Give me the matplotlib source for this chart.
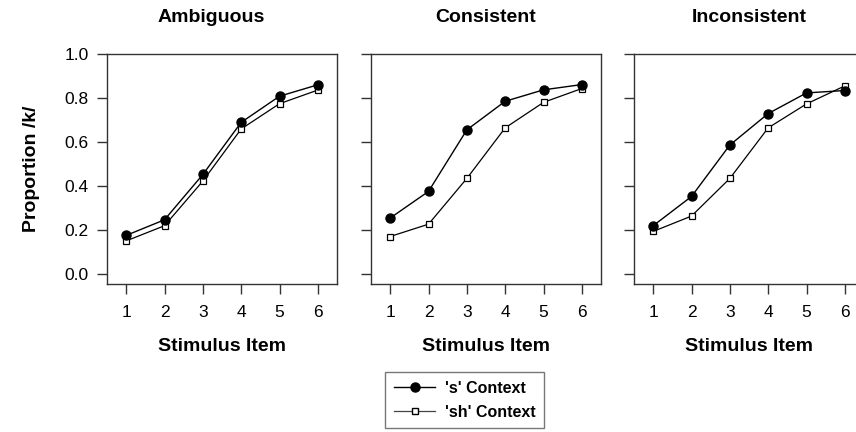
import matplotlib
matplotlib.use("Agg")
import matplotlib.pyplot as plt
from matplotlib.lines import Line2D

plt.rcParams['font.family'] = ['Liberation Sans', 'DejaVu Sans']

items = [1, 2, 3, 4, 5, 6]
panel_titles = ["Ambiguous", "Consistent", "Inconsistent"]

# proportion /k/ responses
s_ambiguous = [0.175, 0.246, 0.452, 0.689, 0.808, 0.860]
sh_ambiguous = [0.150, 0.219, 0.422, 0.659, 0.774, 0.836]
s_consistent = [0.254, 0.375, 0.655, 0.785, 0.837, 0.861]
sh_consistent = [0.170, 0.226, 0.434, 0.664, 0.780, 0.843]
s_inconsistent = [0.219, 0.352, 0.586, 0.729, 0.823, 0.834]
sh_inconsistent = [0.193, 0.263, 0.434, 0.664, 0.773, 0.855]

s_series = [s_ambiguous, s_consistent, s_inconsistent]
sh_series = [sh_ambiguous, sh_consistent, sh_inconsistent]

W, H = 856, 432
fig = plt.figure(figsize=(W / 100, H / 100), dpi=100)

lefts = [107, 371, 634]
title_x = [211, 486, 749]
box_w, top, bottom = 230, 54, 284
edge = "#333333"

for i in range(3):
    ax = fig.add_axes([lefts[i] / W, 1 - bottom / H, box_w / W, (bottom - top) / H])
    ax.plot(items, s_series[i], color="black", lw=1, marker="o", ms=6.5,
            mfc="black", mec="black", zorder=3)
    ax.plot(items, sh_series[i], color="black", lw=0.9, marker="s", ms=5,
            mfc="white", mec="black", mew=0.9, zorder=2)
    ax.set_xlim(0.5, 6.5)
    ax.set_ylim(-0.046, 1.0)
    ax.set_xticks(items)
    ax.set_yticks([0.0, 0.2, 0.4, 0.6, 0.8, 1.0])
    for sp in ax.spines.values():
        sp.set_color(edge)
        sp.set_linewidth(1)
    ax.tick_params(direction="out", length=7, width=1, color=edge, labelsize=12.5)
    ax.tick_params(axis="x", pad=8)
    ax.tick_params(axis="y", pad=6)
    if i == 0:
        ax.set_yticklabels(["0.0", "0.2", "0.4", "0.6", "0.8", "1.0"])
        ax.set_ylabel("Proportion /k/", fontsize=14, fontweight="bold", labelpad=18)
    else:
        ax.set_yticklabels([])
    ax.set_xlabel("Stimulus Item", fontsize=14, fontweight="bold", labelpad=13)
    fig.text(title_x[i] / W, 1 - 18 / H, panel_titles[i], ha="center", va="center",
             fontsize=14, fontweight="bold")

handles = [
    Line2D([], [], color="black", lw=1, marker="o", ms=6.5, mfc="black", mec="black"),
    Line2D([], [], color="#444444", lw=0.9, marker="s", ms=5, mfc="white", mec="black"),
]
leg = fig.legend(handles, ["'s' Context", "'sh' Context"],
                 loc="upper left", bbox_to_anchor=(385 / W, 1 - 372 / H),
                 borderaxespad=0, frameon=True, fancybox=False, edgecolor="#555555",
                 prop={"weight": "bold", "size": 11.5}, handlelength=2.6,
                 handletextpad=0.6, borderpad=0.55, labelspacing=0.55)
leg.get_frame().set_linewidth(1)

fig.savefig("out.png", dpi=100)
